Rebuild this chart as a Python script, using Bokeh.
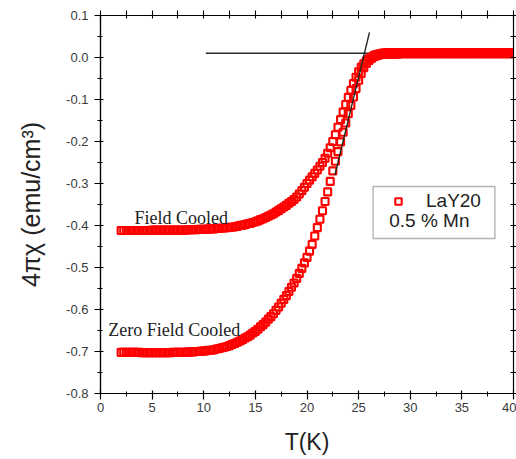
from bokeh.plotting import figure
from bokeh.models import (Range1d, LinearAxis, SingleIntervalTicker, FixedTicker, PrintfTickFormatter,
                          Legend, LegendItem, BoxAnnotation, Label)
from bokeh.embed import file_html
from bokeh.resources import INLINE

# ---------------- data ----------------
T = [
    2.00, 2.25, 2.50, 2.75, 3.00, 3.25, 3.50, 3.75,
    4.00, 4.25, 4.50, 4.75, 5.00, 5.25, 5.50, 5.75,
    6.00, 6.25, 6.50, 6.75, 7.00, 7.25, 7.50, 7.75,
    8.00, 8.25, 8.50, 8.75, 9.00, 9.25, 9.50, 9.75,
    10.00, 10.25, 10.50, 10.75, 11.00, 11.25, 11.50, 11.75,
    12.00, 12.25, 12.50, 12.75, 13.00, 13.25, 13.50, 13.75,
    14.00, 14.25, 14.50, 14.75, 15.00, 15.25, 15.50, 15.75,
    16.00, 16.25, 16.50, 16.75, 17.00, 17.25, 17.50, 17.75,
    18.00, 18.25, 18.50, 18.75, 19.00, 19.25, 19.50, 19.75,
    20.00, 20.25, 20.50, 20.75, 21.00, 21.25, 21.50, 21.75,
    22.00, 22.25, 22.50, 22.75, 23.00, 23.25, 23.50, 23.75,
    24.00, 24.25, 24.50, 24.75, 25.00, 25.25, 25.50, 25.75,
    26.00, 26.25, 26.50, 26.75, 27.00, 27.25, 27.50, 27.75,
    28.00, 28.25, 28.50, 28.75, 29.00, 29.25, 29.50, 29.75,
    30.00, 30.25, 30.50, 30.75, 31.00, 31.25, 31.50, 31.75,
    32.00, 32.25, 32.50, 32.75, 33.00, 33.25, 33.50, 33.75,
    34.00, 34.25, 34.50, 34.75, 35.00, 35.25, 35.50, 35.75,
    36.00, 36.25, 36.50, 36.75, 37.00, 37.25, 37.50, 37.75,
    38.00, 38.25, 38.50, 38.75, 39.00, 39.25, 39.50, 39.75,
    40.00,
]

chi_fc = [
    -0.412, -0.412, -0.412, -0.412, -0.412, -0.412, -0.412, -0.412,
    -0.412, -0.412, -0.412, -0.412, -0.411, -0.411, -0.411, -0.411,
    -0.411, -0.411, -0.411, -0.411, -0.411, -0.411, -0.411, -0.411,
    -0.411, -0.411, -0.410, -0.410, -0.410, -0.410, -0.409, -0.409,
    -0.409, -0.409, -0.408, -0.408, -0.408, -0.407, -0.407, -0.406,
    -0.406, -0.405, -0.404, -0.404, -0.403, -0.402, -0.400, -0.399,
    -0.398, -0.396, -0.395, -0.393, -0.391, -0.389, -0.386, -0.384,
    -0.381, -0.378, -0.375, -0.372, -0.368, -0.364, -0.360, -0.356,
    -0.352, -0.347, -0.343, -0.338, -0.332, -0.325, -0.317, -0.309,
    -0.300, -0.292, -0.284, -0.276, -0.268, -0.259, -0.250, -0.240,
    -0.228, -0.215, -0.200, -0.184, -0.166, -0.148, -0.130, -0.112,
    -0.095, -0.078, -0.062, -0.047, -0.034, -0.023, -0.015, -0.008,
    -0.003, 0.001, 0.005, 0.007, 0.009, 0.010, 0.011, 0.011,
    0.012, 0.012, 0.012, 0.012, 0.012, 0.012, 0.012, 0.012,
    0.012, 0.012, 0.012, 0.012, 0.012, 0.012, 0.012, 0.012,
    0.012, 0.012, 0.012, 0.012, 0.012, 0.012, 0.012, 0.012,
    0.012, 0.012, 0.012, 0.012, 0.012, 0.012, 0.012, 0.012,
    0.012, 0.012, 0.012, 0.012, 0.012, 0.012, 0.012, 0.012,
    0.012, 0.012, 0.012, 0.012, 0.012, 0.012, 0.012, 0.012,
    0.012,
]

chi_zfc = [
    -0.702, -0.702, -0.702, -0.702, -0.702, -0.702, -0.702, -0.702,
    -0.703, -0.703, -0.703, -0.703, -0.703, -0.703, -0.703, -0.703,
    -0.703, -0.703, -0.703, -0.703, -0.702, -0.702, -0.702, -0.702,
    -0.702, -0.702, -0.701, -0.701, -0.701, -0.700, -0.700, -0.699,
    -0.699, -0.698, -0.697, -0.697, -0.696, -0.694, -0.693, -0.691,
    -0.690, -0.688, -0.686, -0.683, -0.681, -0.678, -0.675, -0.672,
    -0.668, -0.665, -0.661, -0.656, -0.652, -0.647, -0.641, -0.636,
    -0.630, -0.623, -0.617, -0.610, -0.602, -0.594, -0.585, -0.576,
    -0.567, -0.557, -0.547, -0.537, -0.526, -0.514, -0.502, -0.489,
    -0.476, -0.461, -0.445, -0.425, -0.405, -0.385, -0.365, -0.343,
    -0.320, -0.295, -0.270, -0.247, -0.224, -0.201, -0.178, -0.156,
    -0.134, -0.114, -0.094, -0.074, -0.054, -0.038, -0.024, -0.014,
    -0.007, -0.002, 0.002, 0.004, 0.006, 0.007, 0.008, 0.008,
    0.008, 0.008, 0.008, 0.008, 0.009, 0.009, 0.009, 0.009,
    0.009, 0.009, 0.009, 0.009, 0.009, 0.009, 0.009, 0.009,
    0.009, 0.009, 0.009, 0.009, 0.009, 0.009, 0.009, 0.009,
    0.009, 0.009, 0.009, 0.009, 0.009, 0.009, 0.009, 0.009,
    0.009, 0.009, 0.009, 0.009, 0.009, 0.009, 0.009, 0.009,
    0.009, 0.009, 0.009, 0.009, 0.009, 0.009, 0.009, 0.009,
    0.009,
]

# guide lines drawn on the original figure
baseline_T = [10.2, 40.0]
baseline_chi = [0.010, 0.010]
tangent_T = [22.7, 26.05]
tangent_chi = [-0.28, 0.06]

x_ticks_interval = 5
y_ticks_interval = 0.1
# tick marks mirrored on the top and right frame edges (no labels)
x_mirror_ticks = [0, 2.5, 5, 7.5, 10, 12.5, 15, 17.5, 20, 22.5, 25, 27.5, 30, 32.5, 35, 37.5, 40]
y_mirror_ticks = [-0.8, -0.75, -0.7, -0.65, -0.6, -0.55, -0.5, -0.45, -0.4, -0.35, -0.3,
                  -0.25, -0.2, -0.15, -0.1, -0.05, 0.0, 0.05, 0.1]

y_title = "4πχ (emu/cm³)"
x_title = "T(K)"
legend_label = "LaY20"
legend_note = "0.5 % Mn"
fc_text = "Field Cooled"
zfc_text = "Zero Field Cooled"

# ---------------- figure ----------------
p = figure(width=516, height=459, output_backend="svg", toolbar_location=None,
           x_range=Range1d(0, 40), y_range=Range1d(-0.8, 0.1),
           min_border_left=100, min_border_right=3, min_border_top=15, min_border_bottom=66,
           x_axis_label=x_title, y_axis_label=y_title)
p.grid.visible = False
p.outline_line_color = "black"
p.outline_line_width = 1.2
p.background_fill_color = "white"
p.border_fill_color = "white"

p.xaxis.ticker = SingleIntervalTicker(interval=x_ticks_interval, num_minor_ticks=2)
p.yaxis.ticker = SingleIntervalTicker(interval=y_ticks_interval, num_minor_ticks=2)
p.yaxis.formatter = PrintfTickFormatter(format="%.1f")

for ax in (p.xaxis[0], p.yaxis[0]):
    ax.axis_line_color = "black"
    ax.axis_line_width = 1.2
    ax.major_tick_line_color = "black"
    ax.minor_tick_line_color = "black"
    ax.major_tick_line_width = 1.2
    ax.minor_tick_line_width = 1.0
    ax.major_tick_out = 6
    ax.major_tick_in = 3
    ax.minor_tick_out = 3
    ax.minor_tick_in = 2
    ax.major_label_text_font = "Liberation Sans"
    ax.major_label_text_font_size = "13px"
    ax.major_label_text_color = "#3a3a3a"
    ax.axis_label_text_font = "Liberation Sans"
    ax.axis_label_text_font_style = "normal"
    ax.axis_label_text_color = "#222222"
    ax.axis_label_text_font_size = "23px"

p.yaxis.axis_label_text_font_size = "25px"
p.xaxis.major_label_standoff = 3
p.xaxis.axis_label_standoff = 14
p.yaxis.major_label_standoff = 6
p.yaxis.axis_label_standoff = 18

# mirror axes (ticks only) on top and right
top_ax = LinearAxis(ticker=FixedTicker(ticks=[], minor_ticks=x_mirror_ticks))
right_ax = LinearAxis(ticker=FixedTicker(ticks=[], minor_ticks=y_mirror_ticks))
for ax, out in ((top_ax, 5), (right_ax, 3)):
    ax.axis_line_color = "black"
    ax.minor_tick_line_color = "black"
    ax.minor_tick_line_width = 1.1
    ax.minor_tick_out = out
    ax.minor_tick_in = 3
    ax.major_label_standoff = 0
p.add_layout(top_ax, "above")
p.add_layout(right_ax, "right")

# guide lines
p.line(baseline_T, baseline_chi, line_color="#2a2a2a", line_width=1.6)

# data
r_fc = p.scatter(T, chi_fc, marker="square", size=7, fill_alpha=0,
                 line_color="#ff0000", line_width=2.1)
r_zfc = p.scatter(T, chi_zfc, marker="square", size=7, fill_alpha=0,
                  line_color="#ff0000", line_width=2.1)

p.line(tangent_T, tangent_chi, line_color="#1f2a1f", line_width=1.4)

# annotations
p.add_layout(Label(x=3.3, y=-0.381, text=fc_text, text_font="Liberation Serif",
                   text_font_size="18px", text_color="#222222", text_baseline="alphabetic"))
p.add_layout(Label(x=0.75, y=-0.648, text=zfc_text, text_font="Liberation Serif",
                   text_font_size="18px", text_color="#222222", text_baseline="alphabetic"))

# legend box
p.add_layout(BoxAnnotation(left=26.4, right=38.2, top=-0.307, bottom=-0.431,
                           fill_alpha=0, line_color="black", line_width=1.4))
legend = Legend(items=[LegendItem(label=legend_label, renderers=[r_zfc])],
                location=(290, 181), border_line_alpha=0, background_fill_alpha=0,
                padding=0, margin=0, glyph_width=16, glyph_height=20, label_height=20,
                label_standoff=20, label_text_font="Liberation Sans",
                label_text_font_size="19px", label_text_color="#222222")
p.add_layout(legend)
p.add_layout(Label(x=27.96, y=-0.388, text=legend_note, text_font="Liberation Sans",
                   text_font_size="19px", text_color="#222222", text_baseline="middle"))

open("out.html", "w").write(file_html(p, INLINE))
